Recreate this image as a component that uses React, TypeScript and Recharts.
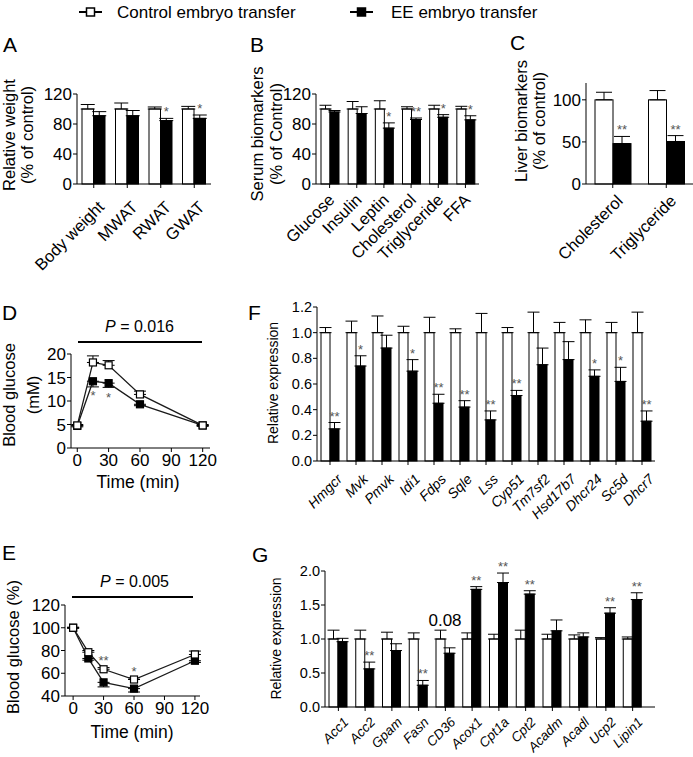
import React from "react";
import { BarChart, Bar, LineChart, Line, XAxis, YAxis, ErrorBar } from "recharts";

const FONT = '"Liberation Sans", Arial, Helvetica, sans-serif';

const seriesNames = ["Control embryo transfer", "EE embryo transfer"];

// A - fat pad / body weights (% of control)
const weightCats = ["Body weight", "MWAT", "RWAT", "GWAT"];
const weightCtrl = [100, 100, 100, 100];
const weightCtrlErr = [6, 8, 2.7, 3.5];
const weightEE = [91, 91, 84.5, 87.5];
const weightEEErr = [5.5, 7, 3, 4.5];
const weightSig = ["", "", "*", "*"];

// B - serum biomarkers
const serumCats = ["Glucose", "Insulin", "Leptin", "Cholesterol", "Triglyceride", "FFA"];
const serumCtrl = [100, 100, 100, 100, 100, 100];
const serumCtrlErr = [5, 10, 11, 3, 5, 3.6];
const serumEE = [96, 94, 74.5, 86, 89, 85.5];
const serumEEErr = [2, 9, 7, 2, 3.5, 5.5];
const serumSig = ["", "", "*", "**", "*", "*"];

// C - liver biomarkers
const liverCats = ["Cholesterol", "Triglyceride"];
const liverCtrl = [100, 100];
const liverCtrlErr = [9, 11];
const liverEE = [48, 50.5];
const liverEEErr = [8.5, 7];
const liverSig = ["**", "**"];

// D - GTT (mM), E - ITT (%)
const times = [0, 15, 30, 60, 120];
const timeTicks = [0, 30, 60, 90, 120];
const gttCtrl = [4.8, 18.2, 17.6, 11.4, 4.8];
const gttCtrlErr = [0.2, 1.4, 1.0, 0.7, 0.2];
const gttEE = [4.7, 14.2, 13.8, 9.3, 4.8];
const gttEEErr = [0.2, 1.2, 0.9, 0.3, 0.2];
const gttSig = ["", "*", "*", "", ""];

const ittCtrl = [100, 78.5, 63.5, 54.5, 76.5];
const ittCtrlErr = [0.5, 1.5, 1.5, 1.5, 3];
const ittEE = [100, 73, 52, 46.5, 71];
const ittEEErr = [0.5, 1.5, 4, 3, 1.5];
const ittSig = ["", "", "**", "*", ""];

// F - cholesterol synthesis genes
const cholGenes = ["Hmgcr", "Mvk", "Pmvk", "Idi1", "Fdps", "Sqle", "Lss", "Cyp51", "Tm7sf2", "Hsd17b7", "Dhcr24", "Sc5d", "Dhcr7"];
const cholCtrl = [1, 1, 1, 1, 1, 1, 1, 1, 1, 1, 1, 1, 1];
const cholCtrlErr = [0.04, 0.09, 0.13, 0.05, 0.12, 0.03, 0.15, 0.04, 0.16, 0.08, 0.1, 0.08, 0.16];
const cholEE = [0.25, 0.74, 0.88, 0.7, 0.45, 0.42, 0.32, 0.51, 0.75, 0.79, 0.66, 0.62, 0.31];
const cholEEErr = [0.05, 0.08, 0.1, 0.09, 0.07, 0.05, 0.07, 0.04, 0.13, 0.14, 0.05, 0.11, 0.08];
const cholSig = ["**", "*", "", "*", "**", "**", "**", "**", "", "", "*", "*", "**"];

// G - lipid metabolism genes
const lipidGenes = ["Acc1", "Acc2", "Gpam", "Fasn", "CD36", "Acox1", "Cpt1a", "Cpt2", "Acadm", "Acadl", "Ucp2", "Lipin1"];
const lipidCtrl = [1, 1, 1, 1, 1, 1, 1, 1, 1, 1, 1, 1];
const lipidCtrlErr = [0.13, 0.13, 0.1, 0.09, 0.13, 0.09, 0.07, 0.13, 0.07, 0.06, 0.02, 0.03];
const lipidEE = [0.96, 0.56, 0.83, 0.32, 0.79, 1.73, 1.83, 1.66, 1.12, 1.03, 1.38, 1.58];
const lipidEEErr = [0.05, 0.1, 0.1, 0.07, 0.08, 0.04, 0.14, 0.05, 0.16, 0.06, 0.08, 0.1];
const lipidSig = ["", "**", "", "**", "", "**", "**", "**", "", "", "**", "**"];
const lipidNote = ["", "", "", "", "0.08", "", "", "", "", "", "", ""];

const toRows = (cats: string[], ctrl: number[], ctrlErr: number[], ee: number[], eeErr: number[], sig: string[], note: string[] = []) =>
  cats.map((name, i) => ({ name, ctrl: ctrl[i], ctrlErr: ctrlErr[i], ee: ee[i], eeErr: eeErr[i], sig: sig[i], note: note[i] || "" }));

const toPoints = (ctrl: number[], ctrlErr: number[], ee: number[], eeErr: number[], sig: string[]) =>
  times.map((t, i) => ({ t, ctrl: ctrl[i], ctrlErr: ctrlErr[i], ee: ee[i], eeErr: eeErr[i], sig: sig[i] }));

const STAR = "#555";

const ctrlShape = (p: any) => {
  const { x, y, width, height, payload } = p;
  const ppu = payload.ctrl ? height / payload.ctrl : 0;
  return (
    <g>
      <rect x={x} y={y} width={width} height={height} fill="#fff" stroke="#000" strokeWidth={1} />
      {payload.note ? (
        <text x={x + width} y={y - payload.ctrlErr * ppu - 4} textAnchor="middle" fontSize={17} fill="#000">
          {payload.note}
        </text>
      ) : null}
    </g>
  );
};

const eeShape = (p: any) => {
  const { x, y, width, height, payload } = p;
  const ppu = payload.ee ? height / payload.ee : 0;
  return (
    <g>
      <rect x={x} y={y} width={width} height={height} fill="#000" stroke="#000" strokeWidth={1} />
      {payload.sig ? (
        <text x={x + width / 2} y={y - payload.eeErr * ppu - 2} textAnchor="middle" fontSize={13} fill={STAR}>
          {payload.sig}
        </text>
      ) : null}
    </g>
  );
};

const SlantTick = (p: any) => {
  const ax = p.x + p.ox;
  const ay = p.y + p.oy;
  return (
    <text x={ax} y={ay} textAnchor="end" transform={`rotate(-45 ${ax} ${ay})`} fontSize={p.fs} fontStyle={p.italic ? "italic" : "normal"} fill="#000">
      {p.payload.value}
    </text>
  );
};

function BarPanel(props: any) {
  const { data, left, top, width, height, yw, xh, mt, mr, domain, ticks, fmt, barSize, cap, tickFs, labelFs, italic, ox, oy, padRight } = props;
  return (
    <div style={{ position: "absolute", left, top }}>
      <BarChart width={width} height={height} data={data} margin={{ top: mt, right: mr, left: 0, bottom: 0 }} barGap={0}>
        <XAxis
          dataKey="name"
          height={xh}
          interval={0}
          tickSize={4}
          tickMargin={1}
          padding={{ left: 0, right: padRight || 0 }}
          axisLine={{ stroke: "#000" }}
          tickLine={{ stroke: "#000" }}
          tick={(t: any) => <SlantTick {...t} ox={ox} oy={oy} fs={labelFs} italic={italic} />}
        />
        <YAxis
          width={yw}
          domain={domain}
          ticks={ticks}
          interval={0}
          tickFormatter={fmt}
          tickSize={4}
          tickMargin={1}
          axisLine={{ stroke: "#000" }}
          tickLine={{ stroke: "#000" }}
          tick={{ fontSize: tickFs, fill: "#000" }}
        />
        <Bar dataKey="ctrl" barSize={barSize} shape={ctrlShape} isAnimationActive={false}>
          <ErrorBar dataKey={(d: any) => [0, d.ctrlErr]} width={cap} stroke="#000" strokeWidth={1} direction="y" />
        </Bar>
        <Bar dataKey="ee" barSize={barSize} shape={eeShape} isAnimationActive={false}>
          <ErrorBar dataKey={(d: any) => [0, d.eeErr]} width={cap} stroke="#000" strokeWidth={1} direction="y" />
        </Bar>
      </BarChart>
    </div>
  );
}

function LinePanel(props: any) {
  const { data, left, top, width, height, yw, xh, mt, mr, xDomain, yDomain, yTicks, starBelowEE } = props;
  const makeDot = (fill: string, withStar: boolean, below: boolean) => (p: any) => {
    const { cx, cy, payload, index } = p;
    return (
      <g key={"dot" + fill + index}>
        <rect x={cx - 3.5} y={cy - 3.5} width={7} height={7} fill={fill} stroke="#000" strokeWidth={1.2} />
        {withStar && payload.sig ? (
          <text x={cx} y={below ? cy + 19 : cy - 4} textAnchor="middle" fontSize={13} fill={STAR}>
            {payload.sig}
          </text>
        ) : null}
      </g>
    );
  };
  return (
    <div style={{ position: "absolute", left, top }}>
      <LineChart width={width} height={height} data={data} margin={{ top: mt, right: mr, left: 0, bottom: 0 }}>
        <XAxis
          type="number"
          dataKey="t"
          domain={xDomain}
          ticks={timeTicks}
          interval={0}
          height={xh}
          tickSize={4}
          tickMargin={2}
          axisLine={{ stroke: "#000" }}
          tickLine={{ stroke: "#000" }}
          tick={{ fontSize: 17, fill: "#000" }}
        />
        <YAxis
          width={yw}
          domain={yDomain}
          ticks={yTicks}
          interval={0}
          tickSize={4}
          tickMargin={1}
          axisLine={{ stroke: "#000" }}
          tickLine={{ stroke: "#000" }}
          tick={{ fontSize: 17, fill: "#000" }}
        />
        <Line dataKey="ee" stroke="#1a1a1a" strokeWidth={1.3} dot={makeDot("#000", starBelowEE, true)} isAnimationActive={false}>
          <ErrorBar dataKey={(d: any) => [d.eeErr, 0]} width={6} stroke="#000" strokeWidth={1} direction="y" />
        </Line>
        <Line dataKey="ctrl" stroke="#1a1a1a" strokeWidth={1.3} dot={makeDot("#fff", !starBelowEE, false)} isAnimationActive={false}>
          <ErrorBar dataKey={(d: any) => [0, d.ctrlErr]} width={6} stroke="#000" strokeWidth={1} direction="y" />
        </Line>
      </LineChart>
    </div>
  );
}

const VText = ({ x, y, size, children }: any) => (
  <text x={x} y={y} fontSize={size} textAnchor="middle" transform={`rotate(-90 ${x} ${y})`} fill="#000">
    {children}
  </text>
);

export default function App() {
  const weightRows = toRows(weightCats, weightCtrl, weightCtrlErr, weightEE, weightEEErr, weightSig);
  const serumRows = toRows(serumCats, serumCtrl, serumCtrlErr, serumEE, serumEEErr, serumSig);
  const liverRows = toRows(liverCats, liverCtrl, liverCtrlErr, liverEE, liverEEErr, liverSig);
  const cholRows = toRows(cholGenes, cholCtrl, cholCtrlErr, cholEE, cholEEErr, cholSig);
  const lipidRows = toRows(lipidGenes, lipidCtrl, lipidCtrlErr, lipidEE, lipidEEErr, lipidSig, lipidNote);
  const gttPts = toPoints(gttCtrl, gttCtrlErr, gttEE, gttEEErr, gttSig);
  const ittPts = toPoints(ittCtrl, ittCtrlErr, ittEE, ittEEErr, ittSig);
  const f1 = (v: number) => v.toFixed(1);

  return (
    <div style={{ position: "absolute", left: 0, top: 0, width: 693, height: 757, background: "#fff", fontFamily: FONT, overflow: "hidden" }}>
      <BarPanel data={weightRows} left={30} top={80} width={183} height={199} yw={47} xh={95} mt={14} mr={2}
        domain={[0, 120]} ticks={[0, 40, 80, 120]} barSize={11.5} cap={7} tickFs={17} labelFs={16.5} ox={11.5} oy={19} />
      <BarPanel data={serumRows} left={271} top={80} width={210} height={199} yw={45} xh={95} mt={14} mr={2}
        domain={[0, 120]} ticks={[0, 40, 80, 120]} barSize={9} cap={6} tickFs={17} labelFs={16.5} ox={6} oy={12} />
      <BarPanel data={liverRows} left={541} top={80} width={152} height={199} yw={45} xh={95} mt={3} mr={0}
        domain={[0, 120]} ticks={[0, 50, 100]} barSize={18} cap={8} tickFs={17} labelFs={16.5} ox={11} oy={13} />
      <LinePanel data={gttPts} left={31} top={344} width={191} height={149} yw={40} xh={45} mt={10} mr={12}
        xDomain={[-6, 127]} yDomain={[0, 20]} yTicks={[0, 5, 10, 15, 20]} starBelowEE />
      <LinePanel data={ittPts} left={20} top={595} width={192} height={146} yw={45} xh={45} mt={10} mr={12}
        xDomain={[-8, 125]} yDomain={[40, 120]} yTicks={[40, 60, 80, 100, 120]} starBelowEE={false} />
      <BarPanel data={cholRows} left={277} top={295} width={380} height={241} yw={40} xh={75} mt={12} mr={2}
        domain={[0, 1.2]} ticks={[0, 0.2, 0.4, 0.6, 0.8, 1.0, 1.2]} fmt={f1} barSize={9} cap={6} tickFs={14.5} labelFs={14} italic ox={13} oy={14} />
      <BarPanel data={lipidRows} left={285} top={555} width={372} height={200} yw={40} xh={48} mt={16} mr={2} padRight={9}
        domain={[0, 2]} ticks={[0, 0.5, 1.0, 1.5, 2.0]} fmt={f1} barSize={9} cap={6} tickFs={14.5} labelFs={13.5} italic ox={11} oy={11} />

      <svg width={693} height={757} style={{ position: "absolute", left: 0, top: 0, pointerEvents: "none" }}>
        {/* legend */}
        <line x1={79} y1={12} x2={102} y2={12} stroke="#000" strokeWidth={2} />
        <rect x={86.5} y={8} width={8} height={8} fill="#fff" stroke="#000" strokeWidth={1.5} />
        <text x={117} y={18} fontSize={17} fill="#000">{seriesNames[0]}</text>
        <line x1={350} y1={12} x2={373} y2={12} stroke="#000" strokeWidth={2} />
        <rect x={357.5} y={8} width={8} height={8} fill="#000" stroke="#000" strokeWidth={1.5} />
        <text x={391} y={18} fontSize={17} fill="#000">{seriesNames[1]}</text>

        {/* panel letters */}
        <g fontSize={21} fill="#000">
          <text x={3} y={52}>A</text>
          <text x={250} y={52}>B</text>
          <text x={510} y={50}>C</text>
          <text x={2} y={320}>D</text>
          <text x={2} y={560}>E</text>
          <text x={248} y={320}>F</text>
          <text x={252} y={562}>G</text>
        </g>

        {/* axis titles */}
        <VText x={15} y={135} size={16.5}>Relative weight</VText>
        <VText x={33} y={135} size={16.5}>(% of control)</VText>
        <VText x={263} y={134} size={16.5}>Serum biomarkers</VText>
        <VText x={281.5} y={134} size={16.5}>(% of Control)</VText>
        <VText x={527} y={121} size={16.5}>Liver biomarkers</VText>
        <VText x={544.5} y={121} size={16.5}>(% of control)</VText>
        <VText x={14.5} y={395} size={16.5}>Blood glucose</VText>
        <VText x={38.5} y={395} size={16.5}>(mM)</VText>
        <VText x={18.5} y={647} size={16.5}>Blood glucose (%)</VText>
        <VText x={277.5} y={383} size={14}>Relative expression</VText>
        <VText x={280.5} y={638.5} size={14}>Relative expression</VText>
        <text x={138} y={488} fontSize={17.5} textAnchor="middle" fill="#000">Time (min)</text>
        <text x={132} y={737.5} fontSize={17.5} textAnchor="middle" fill="#000">Time (min)</text>

        {/* overall P values */}
        <text x={139.5} y={332} fontSize={16} textAnchor="middle" fill="#000">
          <tspan fontStyle="italic">P</tspan> = 0.016
        </text>
        <line x1={78} y1={342} x2={202} y2={342} stroke="#000" strokeWidth={2} />
        <text x={134.5} y={587} fontSize={16} textAnchor="middle" fill="#000">
          <tspan fontStyle="italic">P</tspan> = 0.005
        </text>
        <line x1={72} y1={597} x2={193} y2={597} stroke="#000" strokeWidth={2} />
      </svg>
    </div>
  );
}
